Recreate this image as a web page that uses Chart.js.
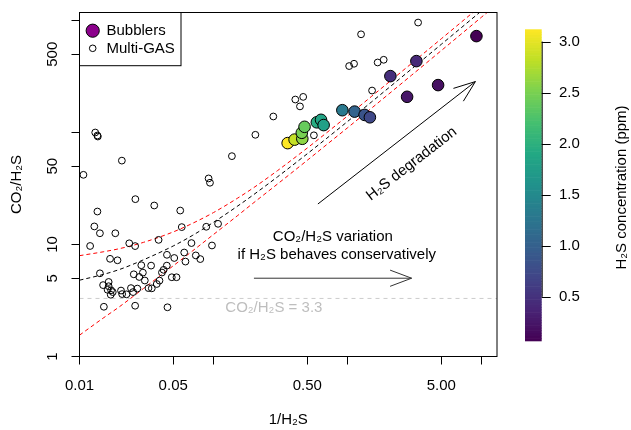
<!DOCTYPE html>
<html><head><meta charset="utf-8">
<script src="https://cdn.jsdelivr.net/npm/chart.js@4.4.1/dist/chart.umd.min.js"></script>
<style>html,body{margin:0;padding:0;background:#fff}canvas{display:block}</style>
</head><body>
<canvas id="c" width="631" height="430"></canvas>
<script>
// ---------------- data ----------------
// Bubblers (filled, coloured by H2S concentration)
const bubX   = [0.357, 0.402, 0.459, 0.455, 0.477, 0.589, 0.633, 0.662, 0.913, 1.126, 1.337, 1.465, 2.083, 3.256, 2.776, 4.727, 9.13];
const bubY   = [80.4, 86.4, 87.9, 99.4, 112.4, 123.3, 129.8, 116.5, 158.2, 153.7, 143.6, 136.7, 318.8, 434, 208.4, 265, 725.5];
const bubH2S = [3.12, 2.85, 2.6, 2.5, 2.4, 1.95, 1.85, 1.8, 1.3, 1.05, 0.85, 0.72, 0.47, 0.43, 0.25, 0.2, 0.07];

// Multi-GAS (open circles)
const mgX = [0.0261, 0.0361, 0.0136, 0.0564, 0.0129, 0.0142, 0.0185, 0.0579, 0.0120, 0.0235,
             0.0260, 0.0389, 0.0684, 0.0882, 0.108, 0.0973, 0.0169, 0.0192, 0.0449, 0.0509,
             0.0604, 0.0737, 0.0796, 0.0617, 0.0289, 0.0342, 0.0448, 0.0142, 0.0254, 0.0279,
             0.0297, 0.0307, 0.0412, 0.0424, 0.0488, 0.0529, 0.0395, 0.0377, 0.0165, 0.0150,
             0.0165, 0.0162, 0.0172, 0.0171, 0.0177, 0.0204, 0.0208, 0.0224, 0.0242, 0.0251,
             0.0270, 0.0327, 0.0346, 0.0152, 0.0260, 0.0453,
             0.0131, 0.0137, 0.0136, 0.0207, 0.0107, 0.0918, 0.0940, 0.137, 0.205, 0.279,
             0.407, 0.441, 0.466, 0.560, 1.026, 1.116, 1.259, 1.674, 1.857, 1.521, 3.353];
const mgY = [25.4, 22.3, 19.7, 20.1, 14.5, 12.6, 12.6, 14.3, 9.70, 10.25,
             9.68, 11.0, 10.3, 14.4, 15.3, 9.80, 7.45, 7.23, 8.09, 7.58,
             8.48, 7.99, 7.41, 7.04, 6.53, 6.48, 6.48, 5.53, 5.42, 5.13,
             5.61, 4.77, 5.62, 5.94, 5.10, 5.10, 4.76, 4.44, 4.63, 4.34,
             4.24, 3.94, 3.90, 3.56, 3.76, 3.88, 3.61, 3.59, 4.08, 3.76,
             4.04, 4.08, 4.06, 2.78, 2.84, 2.75,
             100, 92.1, 94.0, 56.1, 41.9, 38.9, 35.6, 61.5, 95.4, 139,
             197, 171, 208, 94.4, 392, 411, 753, 422, 446, 237, 959];

// Regression line and confidence band
const curveX = [0.01, 0.015, 0.02, 0.03, 0.05, 0.07, 0.1, 0.15, 0.2, 0.3, 0.5, 0.7, 1, 1.5, 2, 3, 5, 7, 10, 13];
const fitY   = [4.8, 5.4, 6.0, 7.3, 9.7, 12.1, 15.8, 21.9, 28.0, 40.2, 64.6, 89.0, 125.6, 186.6, 247.6, 369.6, 613.6, 857.6, 1223.6, 1589.6];
const upperY = [7.95, 8.6, 9.2, 10.45, 12.95, 15.5, 19.3, 25.8, 32.3, 45.7, 72.7, 99.9, 140.8, 209.1, 277.4, 414.2, 687.8, 961.5, 1372, 1782];
const lowerY = [1.55, 2.2, 2.8, 4.05, 6.45, 8.8, 12.3, 18.0, 23.7, 34.7, 56.5, 78.2, 110.4, 164.1, 217.8, 325.0, 539.4, 753.7, 1075, 1397];

// Reference ratio
const refRatio = 3.3;

// Axis ticks
const xTicks = [0.01, 0.05, 0.1, 0.5, 1, 5, 10];
const xTickLabels = ['0.01', '0.05', '', '0.50', '', '5.00', ''];
const yTicks = [1, 5, 10, 50, 100, 500, 1000];
const yTickLabels = ['1', '5', '10', '50', '', '500', ''];

// Colour bar
const cbMin = 0.07, cbMax = 3.12;
const cbTicks = [0.5, 1.0, 1.5, 2.0, 2.5, 3.0];
const cbTickLabels = ['0.5', '1.0', '1.5', '2.0', '2.5', '3.0'];

// ---------------- helpers ----------------
const FONT = "'Liberation Sans', Arial, Helvetica, sans-serif";
Chart.defaults.font.family = FONT;
Chart.defaults.font.size = 15;
Chart.defaults.color = '#000';

const VIR = ['#440154','#482475','#414487','#355f8d','#2a788e','#21918c','#22a884','#44bf70','#7ad151','#bddf26','#fde725'];
function hexRgb(h){return [parseInt(h.slice(1,3),16),parseInt(h.slice(3,5),16),parseInt(h.slice(5,7),16)];}
function viridis(t){
  t = Math.max(0, Math.min(1, t));
  const s = t * 10, i = Math.min(9, Math.floor(s)), f = s - i;
  const a = hexRgb(VIR[i]), b = hexRgb(VIR[i+1]);
  return 'rgb(' + a.map((v,k)=>Math.round(v + (b[k]-v)*f)).join(',') + ')';
}
const pts = (xs, ys) => xs.map((x, i) => ({x, y: ys[i]}));

// ---------------- annotations plugin ----------------
const annot = {
  id: 'annot',
  afterDraw(chart) {
    const {ctx, chartArea: a, scales: {x, y}} = chart;
    const X = v => x.getPixelForValue(v), Y = v => y.getPixelForValue(v);
    ctx.save();
    // plot box
    ctx.strokeStyle = '#000'; ctx.lineWidth = 1;
    ctx.strokeRect(a.left, a.top, a.right - a.left, a.bottom - a.top);

    // y tick labels (rotated, R style)
    ctx.font = '15px ' + FONT; ctx.fillStyle = '#000';
    ctx.textAlign = 'center'; ctx.textBaseline = 'middle';
    yTicks.forEach((v, i) => {
      if (!yTickLabels[i]) return;
      ctx.save(); ctx.translate(53.3, Y(v)); ctx.rotate(-Math.PI/2);
      ctx.fillText(yTickLabels[i], 0, 0); ctx.restore();
    });

    // clip to plot area for annotations
    ctx.save();
    ctx.beginPath(); ctx.rect(a.left, a.top, a.right - a.left, a.bottom - a.top); ctx.clip();

    // CO2/H2S = 3.3 label
    ctx.fillStyle = '#bebebe'; ctx.textAlign = 'left';
    ctx.fillText('CO₂/H₂S = 3.3', X(0.1223), Y(2.74));

    // conservative text + arrow
    ctx.fillStyle = '#000'; ctx.textAlign = 'center';
    ctx.fillText('CO₂/H₂S variation', X(0.776), Y(11.65));
    ctx.fillText('if H₂S behaves conservatively', X(0.83), Y(8.09));
    function arrow(x1, y1, x2, y2, col) {
      const ang = Math.atan2(y2 - y1, x2 - x1), L = 23, h = 0.36;
      ctx.strokeStyle = col; ctx.lineWidth = 1;
      ctx.beginPath(); ctx.moveTo(x1, y1); ctx.lineTo(x2, y2);
      ctx.moveTo(x2 - L*Math.cos(ang - h), y2 - L*Math.sin(ang - h));
      ctx.lineTo(x2, y2);
      ctx.lineTo(x2 - L*Math.cos(ang + h), y2 - L*Math.sin(ang + h));
      ctx.stroke();
    }
    arrow(X(0.2), Y(5), X(3.0), Y(5), '#333');
    const dx1 = X(0.6), dy1 = Y(23), dx2 = X(8.97), dy2 = Y(285);
    arrow(dx1, dy1, dx2, dy2, '#000');
    // H2S degradation
    const ang = Math.atan2(dy2 - dy1, dx2 - dx1);
    ctx.save(); ctx.translate(X(3.0), Y(52.5)); ctx.rotate(ang);
    ctx.fillStyle = '#000'; ctx.textAlign = 'center'; ctx.textBaseline = 'middle';
    ctx.fillText('H₂S degradation', 0, 0); ctx.restore();
    ctx.restore();

    // legend
    const lx = a.left, ly = a.top;
    ctx.fillStyle = '#fff'; ctx.fillRect(lx, ly, 101.5, 53.2);
    ctx.strokeStyle = '#000'; ctx.strokeRect(lx, ly, 101.5, 53.2);
    ctx.beginPath(); ctx.arc(lx + 13.2, ly + 18.2, 6.6, 0, 2*Math.PI);
    ctx.fillStyle = '#8b008b'; ctx.fill(); ctx.stroke();
    ctx.beginPath(); ctx.arc(lx + 13.2, ly + 35.8, 3.3, 0, 2*Math.PI); ctx.stroke();
    ctx.fillStyle = '#000'; ctx.textAlign = 'left'; ctx.textBaseline = 'middle';
    ctx.fillText('Bubblers', lx + 27, ly + 18.5);
    ctx.fillText('Multi-GAS', lx + 27, ly + 36);

    // colour bar
    const cbL = 525, cbR = 541.7, cbT = 29.3, cbB = 340.7;
    const cbY = v => cbB - (v - cbMin) / (cbMax - cbMin) * (cbB - cbT);
    const n = 120;
    for (let i = 0; i < n; i++) {
      const t0 = i / n, t1 = (i + 1) / n;
      ctx.fillStyle = viridis((t0 + t1) / 2);
      const yA = cbB - t1 * (cbB - cbT), yB = cbB - t0 * (cbB - cbT);
      ctx.fillRect(cbL, yA, cbR - cbL, yB - yA + 0.6);
    }
    ctx.strokeStyle = '#000'; ctx.lineWidth = 1;
    ctx.beginPath();
    ctx.moveTo(cbR + 0.5, cbY(cbTicks[0])); ctx.lineTo(cbR + 0.5, cbY(cbTicks[cbTicks.length-1]));
    cbTicks.forEach(v => { ctx.moveTo(cbR, Math.round(cbY(v)) + 0.5); ctx.lineTo(cbR + 9, Math.round(cbY(v)) + 0.5); });
    ctx.stroke();
    ctx.fillStyle = '#000'; ctx.textAlign = 'left'; ctx.textBaseline = 'middle';
    cbTicks.forEach((v, i) => ctx.fillText(cbTickLabels[i], 559, cbY(v)));
    ctx.save(); ctx.translate(621.7, 187.5); ctx.rotate(-Math.PI/2);
    ctx.textAlign = 'center'; ctx.fillText('H₂S concentration (ppm)', 0, 0); ctx.restore();

    ctx.restore();
  }
};

// ---------------- chart ----------------
const lineDs = (label, ys, color, order) => ({
  type: 'line', label, data: pts(curveX, ys), borderColor: color, borderWidth: 1,
  borderDash: [4, 3], pointRadius: 0, fill: false, cubicInterpolationMode: 'monotone', order
});

new Chart(document.getElementById('c'), {
  type: 'scatter',
  data: {
    datasets: [
      { label: 'Bubblers', data: pts(bubX, bubY), pointRadius: 5.8, borderColor: '#000', borderWidth: 1,
        backgroundColor: c => viridis((bubH2S[c.dataIndex] - cbMin) / (cbMax - cbMin)), order: 0 },
      { label: 'Multi-GAS', data: pts(mgX, mgY), pointRadius: 3.4, borderColor: '#000', borderWidth: 1,
        backgroundColor: 'rgba(0,0,0,0)', order: 1 },
      lineDs('fit', fitY, '#000', 2),
      lineDs('upper', upperY, '#ff0000', 3),
      lineDs('lower', lowerY, '#ff0000', 4),
      { type: 'line', label: 'ref', data: [{x: 0.01, y: refRatio}, {x: 13, y: refRatio}], borderColor: '#cccccc',
        borderWidth: 1, borderDash: [4, 4], pointRadius: 0, order: 5 }
    ]
  },
  options: {
    responsive: false, animation: false,
    layout: { padding: { left: 0, top: 12.5, right: 134, bottom: 0 } },
    plugins: { legend: { display: false }, tooltip: { enabled: false } },
    scales: {
      x: {
        type: 'logarithmic', min: 0.01, max: 13.0,
        afterFit: s => { s.height = 73.5; },
        afterBuildTicks: s => { s.ticks = xTicks.map(v => ({value: v})); },
        ticks: { autoSkip: false, maxRotation: 0, padding: 12, color: '#000', font: {size: 15},
                 callback: (v, i) => xTickLabels[i] },
        grid: { drawOnChartArea: false, drawTicks: true, tickLength: 8, color: '#000' },
        border: { display: false },
        title: { display: true, text: '1/H₂S', font: {size: 15}, color: '#000', padding: {top: 0, bottom: 1} }
      },
      y: {
        type: 'logarithmic', min: 1, max: 1179,
        afterFit: s => { s.width = 79.5; },
        afterBuildTicks: s => { s.ticks = yTicks.map(v => ({value: v})); },
        ticks: { display: false },
        grid: { drawOnChartArea: false, drawTicks: true, tickLength: 8, color: '#000' },
        border: { display: false },
        title: { display: true, text: 'CO₂/H₂S', font: {size: 15}, color: '#000', padding: {top: 8, bottom: 0} }
      }
    }
  },
  plugins: [annot]
});
</script>
</body></html>
